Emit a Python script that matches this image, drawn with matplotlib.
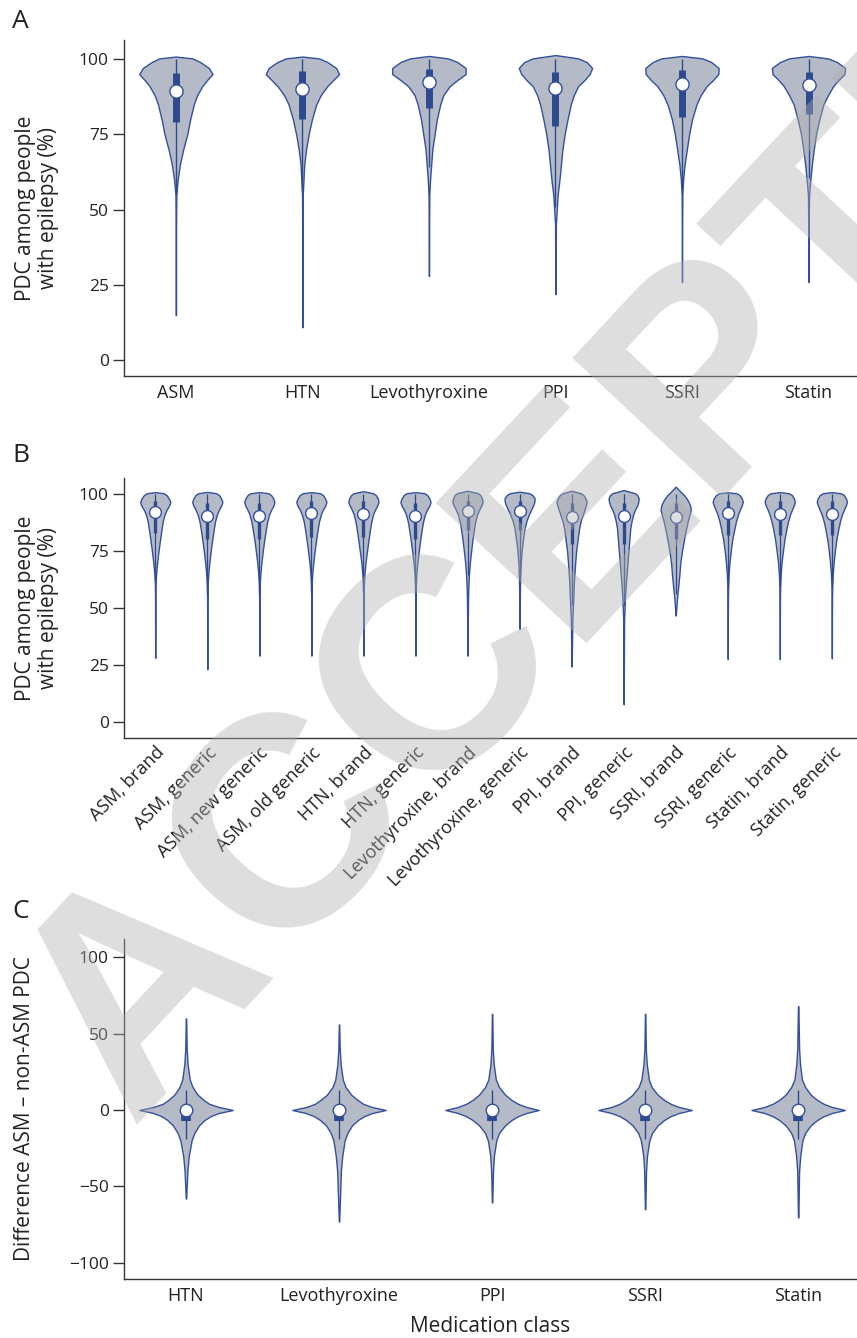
import numpy as np
import matplotlib
matplotlib.use("Agg")
import matplotlib.pyplot as plt
from matplotlib import font_manager

plt.rcParams['font.family'] = ['Open Sans', 'DejaVu Sans']

# ---------------- Panel A data ----------------
A_CATS = ["ASM", "HTN", "Levothyroxine", "PPI", "SSRI", "Statin"]
A_GRID = [45, 55, 60, 65, 70, 75, 80, 85, 88, 91, 93, 95, 97, 99, 100.2]
A_DENS = [
    [0.006, 0.012, 0.05, 0.11, 0.20, 0.31, 0.39, 0.49, 0.58, 0.72, 0.85, 1.00, 0.90, 0.66, 0.45],
    [0.005, 0.010, 0.03, 0.05, 0.10, 0.17, 0.26, 0.38, 0.50, 0.68, 0.84, 1.00, 0.92, 0.68, 0.45],
    [0.005, 0.010, 0.03, 0.06, 0.09, 0.15, 0.21, 0.30, 0.38, 0.55, 0.75, 0.97, 0.97, 0.75, 0.50],
    [0.010, 0.060, 0.11, 0.15, 0.19, 0.25, 0.33, 0.42, 0.50, 0.62, 0.79, 0.93, 1.00, 0.85, 0.62],
    [0.005, 0.010, 0.03, 0.07, 0.13, 0.19, 0.27, 0.39, 0.50, 0.66, 0.83, 0.97, 0.98, 0.78, 0.55],
    [0.005, 0.015, 0.05, 0.09, 0.14, 0.20, 0.29, 0.40, 0.52, 0.66, 0.80, 0.96, 0.98, 0.76, 0.52],
]
A_MIN = [15, 11, 28, 22, 26, 26]
A_TOP = [100.8, 100.8, 101.0, 101.3, 101.0, 101.0]
A_Q1 = [79.0, 80.0, 83.6, 77.8, 80.6, 81.7]
A_Q3 = [95.2, 95.9, 96.6, 95.8, 96.4, 95.8]
A_MED = [89.4, 90.2, 92.4, 90.5, 91.8, 91.3]
A_MAXV = [100, 100, 100, 100, 100, 100]

# ---------------- Panel B data ----------------
B_CATS = ["ASM, brand", "ASM, generic", "ASM, new generic", "ASM, old generic",
          "HTN, brand", "HTN, generic", "Levothyroxine, brand", "Levothyroxine, generic",
          "PPI, brand", "PPI, generic", "SSRI, brand", "SSRI, generic",
          "Statin, brand", "Statin, generic"]
B_GRID = [45, 55, 60, 65, 70, 75, 80, 85, 88, 91, 93, 95, 96.5, 98, 99.5, 100.3]
B_DENS = [
    [0.006, 0.012, 0.020, 0.06, 0.13, 0.22, 0.32, 0.43, 0.50, 0.62, 0.75, 0.93, 1.00, 0.90, 0.75, 0.55],
    [0.006, 0.012, 0.025, 0.07, 0.14, 0.23, 0.33, 0.44, 0.52, 0.64, 0.77, 0.93, 1.00, 0.92, 0.78, 0.60],
    [0.006, 0.012, 0.025, 0.07, 0.14, 0.23, 0.33, 0.45, 0.53, 0.65, 0.78, 0.94, 1.00, 0.92, 0.78, 0.60],
    [0.006, 0.012, 0.020, 0.06, 0.13, 0.22, 0.32, 0.43, 0.51, 0.63, 0.76, 0.93, 1.00, 0.91, 0.77, 0.58],
    [0.006, 0.012, 0.030, 0.07, 0.14, 0.24, 0.34, 0.45, 0.53, 0.64, 0.76, 0.92, 1.00, 0.95, 0.82, 0.65],
    [0.006, 0.012, 0.025, 0.06, 0.13, 0.22, 0.32, 0.43, 0.51, 0.63, 0.76, 0.93, 1.00, 0.92, 0.78, 0.60],
    [0.020, 0.040, 0.060, 0.10, 0.16, 0.24, 0.33, 0.44, 0.52, 0.64, 0.77, 0.92, 1.00, 0.96, 0.85, 0.70],
    [0.010, 0.020, 0.030, 0.05, 0.08, 0.14, 0.23, 0.34, 0.45, 0.62, 0.76, 0.90, 0.98, 1.00, 0.85, 0.65],
    [0.050, 0.120, 0.140, 0.19, 0.24, 0.30, 0.40, 0.50, 0.60, 0.75, 0.85, 0.95, 1.00, 0.92, 0.78, 0.60],
    [0.030, 0.090, 0.140, 0.20, 0.26, 0.32, 0.38, 0.44, 0.52, 0.63, 0.75, 0.90, 0.97, 1.00, 0.90, 0.75],
    [0.030, 0.100, 0.180, 0.25, 0.31, 0.42, 0.55, 0.70, 0.80, 0.92, 1.00, 0.95, 0.85, 0.72, 0.55, 0.42],
    [0.006, 0.015, 0.030, 0.06, 0.12, 0.20, 0.30, 0.45, 0.55, 0.68, 0.80, 0.93, 1.00, 0.93, 0.78, 0.58],
    [0.006, 0.015, 0.030, 0.06, 0.12, 0.21, 0.31, 0.45, 0.55, 0.68, 0.80, 0.93, 1.00, 0.94, 0.80, 0.60],
    [0.006, 0.015, 0.030, 0.06, 0.12, 0.20, 0.30, 0.44, 0.54, 0.67, 0.80, 0.93, 1.00, 0.94, 0.80, 0.60],
]
B_MIN = [28, 23, 29, 29, 29, 29, 29, 40.7, 24.2, 7.6, 46.6, 27.5, 27.5, 27.8]
B_TOP = [100.8, 100.9, 100.8, 100.8, 101.2, 100.8, 101.4, 101.0, 101.4, 101.7, 103.2, 100.7, 100.8, 100.8]
B_MED = [92.0, 90.2, 90.2, 91.5, 91.4, 90.2, 92.5, 92.7, 90.0, 90.3, 90.0, 91.5, 91.1, 91.0]
B_Q1 = [83, 80, 80, 81, 81, 80, 84, 84, 78, 78, 80, 82, 82, 82]
B_Q3 = [97, 96, 96, 97, 97, 96, 97, 97, 96, 96, 96, 97, 97, 97]
B_MAXV = [100] * 14

# ---------------- Panel C data ----------------
C_CATS = ["HTN", "Levothyroxine", "PPI", "SSRI", "Statin"]
C_GRID = [-40, -30, -20, -15, -10, -6.5, -4, -2, 0, 2, 4, 6.5, 10, 15, 20, 30, 40]
C_DENS = [
    [0.03, 0.06, 0.12, 0.18, 0.28, 0.40, 0.53, 0.70, 1.0, 0.70, 0.50, 0.38, 0.25, 0.14, 0.08, 0.035, 0.015],
    [0.04, 0.07, 0.12, 0.18, 0.28, 0.41, 0.54, 0.71, 1.0, 0.70, 0.52, 0.40, 0.26, 0.14, 0.08, 0.035, 0.015],
    [0.02, 0.04, 0.09, 0.15, 0.28, 0.42, 0.56, 0.73, 1.0, 0.73, 0.56, 0.42, 0.28, 0.15, 0.08, 0.035, 0.015],
    [0.02, 0.04, 0.09, 0.15, 0.27, 0.41, 0.55, 0.72, 1.0, 0.72, 0.55, 0.41, 0.27, 0.14, 0.08, 0.035, 0.015],
    [0.02, 0.045, 0.09, 0.15, 0.27, 0.41, 0.55, 0.72, 1.0, 0.72, 0.55, 0.41, 0.27, 0.15, 0.08, 0.04, 0.02],
]
C_MIN = [-58, -73, -60.5, -65, -70.3]
C_MAX = [60, 56, 63, 63, 68]
C_MED = [0, 0, 0, 0, 0]
C_Q1 = [-7, -7, -7, -7, -7]
C_Q3 = [1, 1, 1, 1, 1]

# ---------------- styles ----------------
FILL = '#b4bac6'
EDGE = '#34509c'
BOXC = '#2e4a8e'
TXT = '#222222'
SPINE = '#333333'
TAIL = 0.004

W, H = 857, 1338
fig = plt.figure(figsize=(W / 100, H / 100), dpi=100)


def fx(px):
    return px / W


def fy(py):
    return 1 - py / H


def make_axes(top, bottom):
    ax = fig.add_axes([fx(124), fy(bottom), fx(857 - 124) + 0.001, (bottom - top) / H])
    for s in ['top', 'right']:
        ax.spines[s].set_visible(False)
    for s in ['left', 'bottom']:
        ax.spines[s].set_color(SPINE)
        ax.spines[s].set_linewidth(1.0)
    ax.tick_params(axis='y', length=8, width=1.0, color=SPINE, pad=3, labelsize=12.5, labelcolor=TXT)
    ax.tick_params(axis='x', length=0, pad=6, labelsize=12.5, labelcolor=TXT)
    return ax


def draw(ax, grid, dens, mins, tops, top_val, q1, q3, med, maxv, width, box_lw, msize, wlw):
    stats = []
    pos = np.arange(len(dens))
    for d, mn, tp in zip(dens, mins, tops):
        ys = [mn]
        vs = [TAIL]
        for g, v in zip(grid, d):
            if mn < g < tp:
                ys.append(g)
                vs.append(v)
        ys.append(tp)
        vs.append(top_val)
        stats.append(dict(coords=np.array(ys, float), vals=np.array(vs, float),
                          mean=0.0, median=0.0, min=mn, max=tp))
    parts = ax.violin(stats, positions=pos, widths=width, showmeans=False,
                      showextrema=False, showmedians=False)
    for b in parts['bodies']:
        b.set_facecolor(FILL)
        b.set_edgecolor(EDGE)
        b.set_alpha(1)
        b.set_linewidth(1.0)
        b.set_zorder(2)
    q1 = np.array(q1, float)
    q3 = np.array(q3, float)
    iqr = q3 - q1
    lo = np.maximum(np.array(mins, float), q1 - 1.5 * iqr)
    hi = np.minimum(np.array(maxv, float), q3 + 1.5 * iqr)
    ax.vlines(pos, lo, hi, color=BOXC, lw=wlw, zorder=3)
    ax.vlines(pos, q1, q3, color=BOXC, lw=box_lw, zorder=3)
    ax.scatter(pos, med, s=msize, facecolor='white', edgecolor=EDGE, linewidth=1.0, zorder=4)
    return pos


# Panel A
axA = make_axes(40, 376)
pA = draw(axA, A_GRID, A_DENS, A_MIN, A_TOP, 0.0, A_Q1, A_Q3, A_MED, A_MAXV,
          0.58, 5.0, 90, 1.0)
axA.set_xlim(-0.41, 5.39)
axA.set_ylim(-5.2, 106.3)
axA.set_yticks([0, 25, 50, 75, 100])
axA.set_xticks(pA)
axA.set_xticklabels(A_CATS, fontsize=13)

# Panel B
axB = make_axes(478, 738)
pB = draw(axB, B_GRID, B_DENS, B_MIN, B_TOP, 0.0, B_Q1, B_Q3, B_MED, B_MAXV,
          0.58, 2.4, 72, 0.9)
axB.set_xlim(-0.6, 13.5)
axB.set_ylim(-7.2, 107)
axB.set_yticks([0, 25, 50, 75, 100])
axB.set_xticks(pB)
axB.set_xticklabels(B_CATS, fontsize=13, rotation=45, ha='right', va='top',
                    rotation_mode='anchor')
axB.tick_params(axis='x', pad=4)

# Panel C
axC = make_axes(939, 1279)
pC = draw(axC, C_GRID, C_DENS, C_MIN, C_MAX, TAIL, C_Q1, C_Q3, C_MED, C_MAX,
          0.61, 7.0, 82, 1.0)
axC.set_xlim(-0.405, 4.39)
axC.set_ylim(-110.7, 112)
axC.set_yticks([-100, -50, 0, 50, 100])
axC.set_yticklabels(['\u2212100', '\u221250', '0', '50', '100'])
axC.set_xticks(pC)
axC.set_xticklabels(C_CATS, fontsize=13)

# Labels
ylab_kw = dict(rotation=90, ha='center', va='center', fontsize=15, color=TXT, linespacing=1.15)
fig.text(fx(37), fy(208), "PDC among people\nwith epilepsy (%)", **ylab_kw)
fig.text(fx(37), fy(608), "PDC among people\nwith epilepsy (%)", **ylab_kw)
fig.text(fx(25), fy(1109), "Difference ASM \u2013 non-ASM PDC", **ylab_kw)
fig.text(fx(490), fy(1326), "Medication class", ha='center', va='center', fontsize=15, color=TXT)

for lab, py in [("A", 22), ("B", 456), ("C", 912)]:
    fig.text(fx(12), fy(py), lab, ha='left', va='center', fontsize=19, color=TXT)

# Watermark overlay
names = {f.name for f in font_manager.fontManager.ttflist}
wm_family = ['Liberation Sans Narrow'] if 'Liberation Sans Narrow' in names else ['Liberation Sans']
wm_size = 260 if 'Liberation Sans Narrow' in names else 215
fig.text(fx(130), fy(1125), "ACCEPTED", rotation=47, rotation_mode='anchor',
         ha='left', va='baseline', fontsize=wm_size, fontweight='bold',
         family=wm_family, color='#b0b0b0', alpha=0.42, zorder=100)

fig.savefig("out.png", dpi=100)
